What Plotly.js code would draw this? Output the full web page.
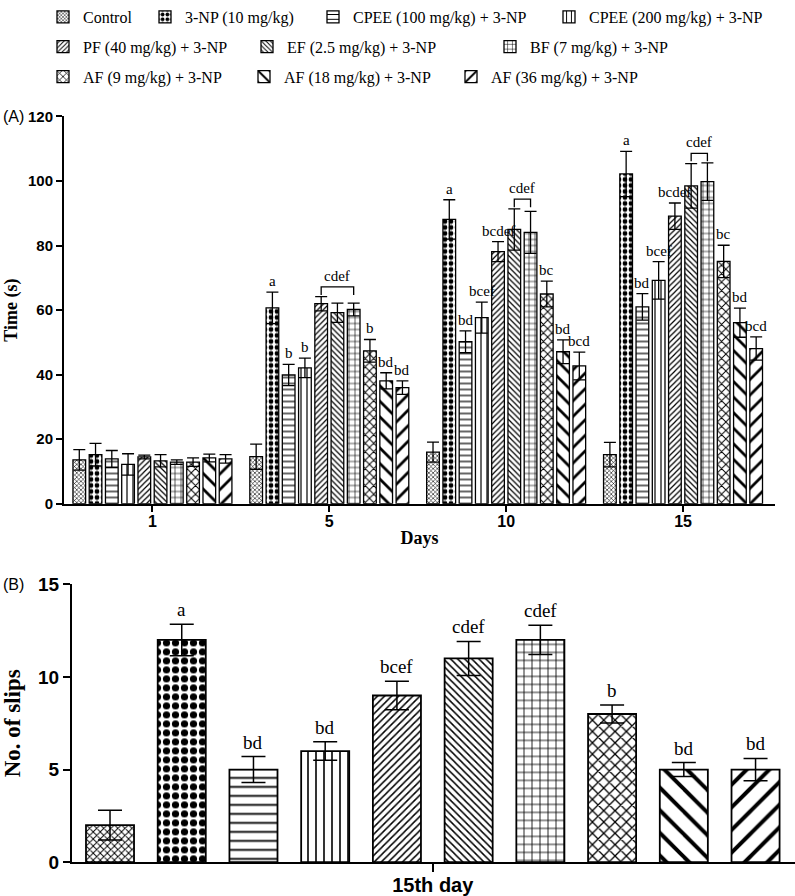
<!DOCTYPE html>
<html>
<head>
<meta charset="utf-8">
<script src="https://cdn.plot.ly/plotly-3.0.1.min.js"></script>
<style>
  body { margin: 0; background: #fff; }
  #chart { width: 795px; height: 896px; }
</style>
</head>
<body>
<div id="chart"></div>
<script>
// treatment groups (legend order)
const groups = [
  'Control', '3-NP (10 mg/kg)', 'CPEE (100 mg/kg) + 3-NP', 'CPEE (200 mg/kg) + 3-NP',
  'PF (40 mg/kg) + 3-NP', 'EF (2.5 mg/kg) + 3-NP', 'BF (7 mg/kg) + 3-NP',
  'AF (9 mg/kg) + 3-NP', 'AF (18 mg/kg) + 3-NP', 'AF (36 mg/kg) + 3-NP'
];
const days = ['1', '5', '10', '15'];

// (A) time (s), one row per group, one value per day
const timeMean = [
  [13.6, 14.6, 16.0, 15.2],
  [15.2, 60.7, 88.1, 102.2],
  [13.9, 39.9, 50.2, 61.0],
  [12.2, 42.1, 57.7, 69.2],
  [14.5, 62.0, 78.1, 89.1],
  [13.3, 59.2, 85.0, 98.5],
  [12.9, 60.2, 84.1, 99.8],
  [12.9, 47.4, 65.0, 75.1],
  [14.2, 38.1, 47.1, 56.1],
  [13.9, 36.0, 42.7, 48.1]
];
const timeErr = [
  [3.2, 3.9, 3.1, 3.8],
  [3.5, 4.9, 6.1, 7.0],
  [2.6, 3.3, 3.4, 4.1],
  [3.3, 3.0, 4.8, 5.8],
  [0.6, 2.2, 3.1, 4.1],
  [1.9, 3.0, 6.4, 6.9],
  [0.7, 2.0, 6.5, 5.8],
  [1.3, 3.5, 4.0, 5.0],
  [1.2, 2.5, 3.7, 4.5],
  [1.3, 2.1, 4.3, 3.6]
];
const timeLetters = [
  ['', '', '', ''],
  ['', 'a', 'a', 'a'],
  ['', 'b', 'bd', 'bd'],
  ['', 'b', 'bcef', 'bcef'],
  ['', '', 'bcdef', 'bcdef'],
  ['', '', '', ''],
  ['', '', '', ''],
  ['', 'b', 'bc', 'bc'],
  ['', 'bd', 'bd', 'bd'],
  ['', 'bd', 'bcd', 'bcd']
];
// shared "cdef" brackets: day index, first group, last group
const bracketDay = [1, 2, 3];
const bracketFrom = [4, 5, 5];
const bracketTo = [6, 6, 6];
const bracketText = 'cdef';

// (B) number of slips on the 15th day
const slipsMean = [2, 12, 5, 6, 9, 11, 12, 8, 5, 5];
const slipsErr = [0.8, 0.85, 0.7, 0.5, 0.77, 0.92, 0.79, 0.49, 0.38, 0.6];
const slipsLetters = ['', 'a', 'bd', 'bd', 'bcef', 'cdef', 'cdef', 'b', 'bd', 'bd'];

// fill patterns per group
const patShape = ['x', '.', '-', '|', '/', '\\', '+', 'x', '\\', '/'];
const patSizeA = [3, 6, 6, 6, 4, 4, 6, 6, 11, 11];
const patSizeB = [5, 9, 9, 8, 5, 5, 8, 8, 16, 16];
const patSolid = [0.35, 0.5, 0.2, 0.2, 0.3, 0.3, 0.2, 0.3, 0.25, 0.25];

const W = 795, H = 896;
const SERIF = 'Liberation Serif, Times New Roman, serif';
const SANS = 'Liberation Sans, Arial, sans-serif';

const slotA = 0.0919, barWA = 0.0717;
const posA = (d, g) => d + (g - 4.5) * slotA;

const data = [];
groups.forEach((name, g) => {
  data.push({
    type: 'bar',
    name: name,
    legend: g === 0 ? 'legend' : 'legend' + (g + 1),
    x: days.map((_, d) => posA(d, g)),
    y: timeMean[g],
    width: barWA,
    xaxis: 'x', yaxis: 'y',
    marker: {
      color: 'white',
      line: { color: 'black', width: 1.3 },
      pattern: { shape: patShape[g], size: patSizeA[g], solidity: patSolid[g], fgcolor: 'black', bgcolor: 'white' }
    },
    error_y: { type: 'data', array: timeErr[g], color: 'black', thickness: 1.3, width: 6 },
    hoverinfo: 'skip'
  });
});

data.push({
  type: 'bar',
  x: groups.map((_, g) => g),
  y: slipsMean,
  width: 0.67,
  xaxis: 'x2', yaxis: 'y2',
  showlegend: false,
  marker: {
    color: 'white',
    line: { color: 'black', width: 1.8 },
    pattern: { shape: patShape, size: patSizeB, solidity: patSolid, fgcolor: 'black', bgcolor: 'white' }
  },
  error_y: { type: 'data', array: slipsErr, color: 'black', thickness: 1.5, width: 12 },
  hoverinfo: 'skip'
});

const annotations = [];
const shapes = [];

groups.forEach((_, g) => {
  days.forEach((_, d) => {
    const t = timeLetters[g][d];
    if (!t) return;
    annotations.push({
      x: posA(d, g), y: timeMean[g][d] + timeErr[g][d], xref: 'x', yref: 'y',
      text: t, showarrow: false, yanchor: 'bottom', yshift: 1,
      font: { family: SERIF, size: 15, color: 'black' }
    });
  });
});

bracketDay.forEach((d, k) => {
  const x0 = posA(d, bracketFrom[k]), x1 = posA(d, bracketTo[k]);
  let top = 0;
  for (let g = bracketFrom[k]; g <= bracketTo[k]; g++) top = Math.max(top, timeMean[g][d] + timeErr[g][d]);
  top += 3;
  shapes.push({
    type: 'path', xref: 'x', yref: 'y',
    path: `M ${x0},${top - 2.5} L ${x0},${top} L ${x1},${top} L ${x1},${top - 2.5}`,
    line: { color: 'black', width: 1.3 }
  });
  annotations.push({
    x: (x0 + x1) / 2, y: top, xref: 'x', yref: 'y', text: bracketText,
    showarrow: false, yanchor: 'bottom', yshift: 1,
    font: { family: SERIF, size: 15, color: 'black' }
  });
});

slipsLetters.forEach((t, g) => {
  if (!t) return;
  annotations.push({
    x: g, y: slipsMean[g] + slipsErr[g], xref: 'x2', yref: 'y2',
    text: t, showarrow: false, yanchor: 'bottom', yshift: 2,
    font: { family: SERIF, size: 19, color: 'black' }
  });
});

annotations.push(
  { x: 1 / W, y: 1 - 113 / H, xref: 'paper', yref: 'paper', text: '(A)', showarrow: false,
    xanchor: 'left', yanchor: 'middle', font: { family: SANS, size: 16, color: 'black' } },
  { x: 1 / W, y: 1 - 583 / H, xref: 'paper', yref: 'paper', text: '(B)', showarrow: false,
    xanchor: 'left', yanchor: 'middle', font: { family: SANS, size: 16, color: 'black' } }
);

const layout = {
  width: W, height: H,
  margin: { l: 0, r: 0, t: 0, b: 0 },
  paper_bgcolor: 'white', plot_bgcolor: 'rgba(0,0,0,0)',
  barmode: 'overlay',
  annotations: annotations,
  shapes: shapes,
  xaxis: {
    domain: [64 / W, 775 / W], range: [-0.5, 3.52], anchor: 'y',
    tickvals: days.map((_, d) => d), ticktext: days,
    showline: true, linecolor: 'black', linewidth: 2,
    ticks: 'outside', ticklen: 6, tickwidth: 2, tickcolor: 'black',
    ticklabelstandoff: -4,
    tickfont: { family: SANS, size: 16, weight: 'bold', color: 'black' },
    title: { text: 'Days', font: { family: SERIF, size: 18, weight: 'bold', color: 'black' }, standoff: 2 },
    showgrid: false, zeroline: false
  },
  yaxis: {
    domain: [1 - 502 / H, 1 - 113 / H], range: [0, 120], dtick: 20, anchor: 'x',
    showline: true, linecolor: 'black', linewidth: 2,
    ticks: 'outside', ticklen: 6, tickwidth: 2, tickcolor: 'black',
    tickfont: { family: SANS, size: 15, weight: 'bold', color: 'black' },
    title: { text: 'Time (s)', font: { family: SERIF, size: 18, weight: 'bold', color: 'black' } },
    showgrid: false, zeroline: false
  },
  xaxis2: {
    domain: [72 / W, 1], range: [-0.53, 9.55], anchor: 'y2',
    tickvals: [4.5], ticktext: ['15th day'],
    showline: true, linecolor: 'black', linewidth: 2,
    ticks: 'outside', ticklen: 8, tickwidth: 2, tickcolor: 'black',
    ticklabelstandoff: -4,
    tickfont: { family: SANS, size: 20, weight: 'bold', color: 'black' },
    showgrid: false, zeroline: false
  },
  yaxis2: {
    domain: [1 - 862 / H, 1 - 583 / H], range: [0, 15], dtick: 5, anchor: 'x2',
    showline: true, linecolor: 'black', linewidth: 2,
    ticks: 'outside', ticklen: 7, tickwidth: 2, tickcolor: 'black',
    tickfont: { family: SANS, size: 19, weight: 'bold', color: 'black' },
    title: { text: 'No. of slips', font: { family: SERIF, size: 23, weight: 'bold', color: 'black' } },
    showgrid: false, zeroline: false
  }
};

// one legend per entry so the three rows can be placed like the original
const legendTextX = [83, 185, 353, 589, 83, 287, 530, 83, 284, 491];
const legendRowY = [13, 13, 13, 13, 43, 43, 43, 73, 73, 73];
groups.forEach((_, g) => {
  const key = g === 0 ? 'legend' : 'legend' + (g + 1);
  layout[key] = {
    orientation: 'h', x: (legendTextX[g] - 40) / W, y: 1 - legendRowY[g] / H,
    xanchor: 'left', yanchor: 'middle', bgcolor: 'rgba(0,0,0,0)', borderwidth: 0,
    font: { family: SERIF, size: 16, color: 'black' }
  };
});

Plotly.newPlot('chart', data, layout, { staticPlot: true });
</script>
</body>
</html>
